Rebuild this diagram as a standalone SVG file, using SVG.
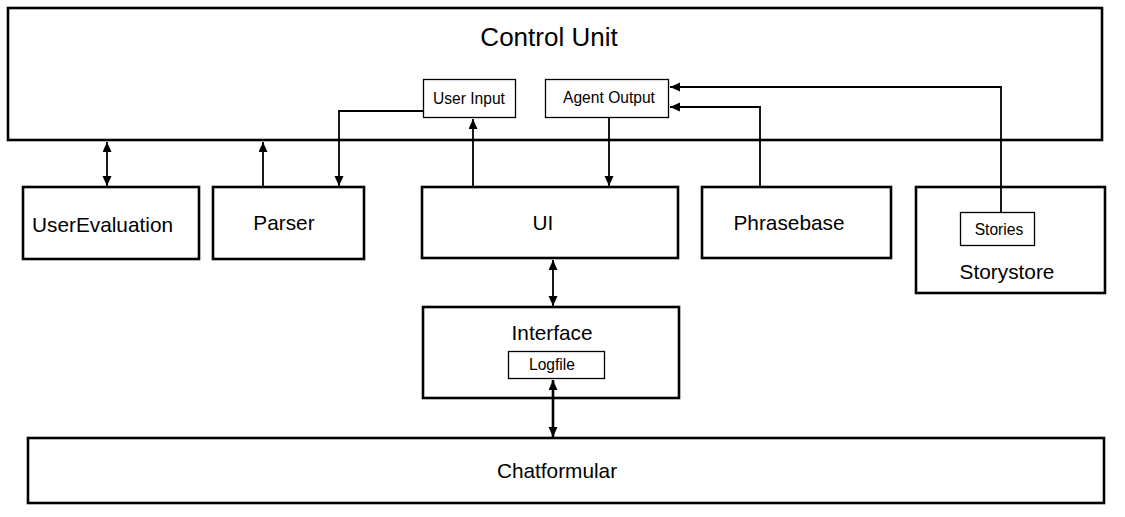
<svg xmlns="http://www.w3.org/2000/svg" width="1125" height="517" viewBox="0 0 1125 517">
<style>
  .big{fill:#fff;stroke:#000;stroke-width:2.6}
  .small{fill:#fff;stroke:#000;stroke-width:1.3}
  text{font-family:"Liberation Sans",Arial,sans-serif;fill:#000}
  .t26{font-size:26px;text-anchor:middle}
  .t21{font-size:20.8px;text-anchor:middle}
  .t15{font-size:15.6px;text-anchor:middle}
  .conn{fill:none;stroke:#000;stroke-width:1.8}
  .thick{stroke-width:2.6}
</style>
<defs>
  <marker id="ah" markerUnits="userSpaceOnUse" markerWidth="11" markerHeight="10" refX="10" refY="4.5" orient="auto-start-reverse" viewBox="0 0 11 10">
    <path d="M0,0 L10,4.5 L0,9 z" fill="#000"/>
  </marker>
</defs>
<rect width="1125" height="517" fill="#fff"/>
<g id="control-unit">
  <rect class="big" x="8" y="8" width="1094" height="132"/>
  <text class="t26" x="549" y="46">Control Unit</text>
</g>
<g id="user-input">
  <rect class="small" x="423.5" y="79.5" width="92" height="38"/>
  <text class="t15" x="469" y="104">User Input</text>
</g>
<g id="agent-output">
  <rect class="small" x="545.5" y="79.5" width="123" height="38"/>
  <text class="t15" x="609" y="103">Agent Output</text>
</g>
<g id="user-evaluation">
  <rect class="big" x="23" y="187" width="176" height="72"/>
  <text x="32" y="232" style="font-size:20.8px">UserEvaluation</text>
</g>
<g id="parser">
  <rect class="big" x="213" y="187" width="151" height="72"/>
  <text class="t21" x="284" y="230">Parser</text>
</g>
<g id="ui">
  <rect class="big" x="422" y="187" width="256" height="71"/>
  <text class="t21" x="543" y="230">UI</text>
</g>
<g id="phrasebase">
  <rect class="big" x="702" y="187" width="189" height="71"/>
  <text class="t21" x="789" y="230">Phrasebase</text>
</g>
<g id="storystore">
  <rect class="big" x="916" y="187" width="189" height="106"/>
  <rect class="small" x="960.5" y="212.5" width="74" height="33"/>
  <text class="t15" x="999" y="235">Stories</text>
  <text class="t21" x="1007" y="279">Storystore</text>
</g>
<g id="interface">
  <rect class="big" x="423" y="307" width="256" height="91"/>
  <text class="t21" x="552" y="340">Interface</text>
  <rect class="small" x="508.5" y="351.5" width="96" height="27"/>
  <text class="t15" x="552" y="370">Logfile</text>
</g>
<g id="chatformular">
  <rect class="big" x="28" y="438" width="1076" height="65"/>
  <text class="t21" x="557" y="478">Chatformular</text>
</g>
<g id="connectors">
  <path class="conn" d="M107,142 V186" marker-start="url(#ah)" marker-end="url(#ah)"/>
  <path class="conn" d="M263,187 V142" marker-end="url(#ah)"/>
  <path class="conn" d="M423,111 H339 V186" marker-end="url(#ah)"/>
  <path class="conn" d="M473,187 V119" marker-end="url(#ah)"/>
  <path class="conn" d="M609,118 V186" marker-end="url(#ah)"/>
  <path class="conn" d="M760,187 V107 H670" marker-end="url(#ah)"/>
  <path class="conn" d="M1001,212 V87 H670" marker-end="url(#ah)"/>
  <path class="conn" d="M553,260 V306" marker-start="url(#ah)" marker-end="url(#ah)"/>
  <path class="conn thick" d="M553,380 V437" marker-start="url(#ah)" marker-end="url(#ah)"/>
</g>
</svg>
